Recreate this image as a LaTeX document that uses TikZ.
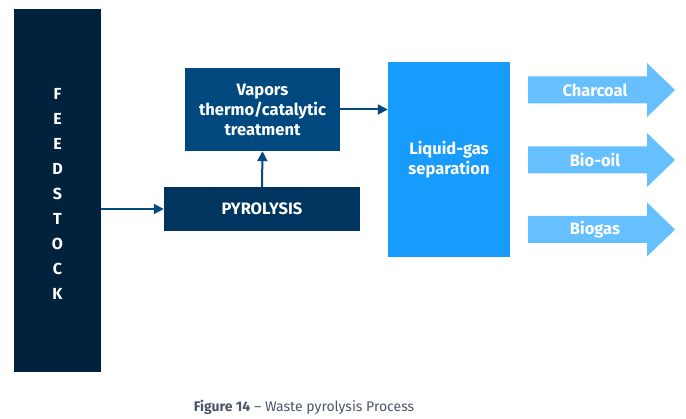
\documentclass[tikz,border=0pt]{standalone}
\usepackage{fontspec}
\setmainfont{Fira Sans}
\usetikzlibrary{arrows.meta}
\definecolor{feedc}{HTML}{00223D}
\definecolor{pyroc}{HTML}{00355F}
\definecolor{vapc}{HTML}{00497F}
\definecolor{liqc}{HTML}{179BFD}
\definecolor{outc}{HTML}{66BFFF}
\definecolor{linec}{HTML}{044A7E}
\definecolor{capc}{HTML}{4A5668}
\newcommand{\fatarrow}[2]{%
  \fill[outc] (528,#1-13.5) coordinate (#2w) -- (647,#1-13.5) -- (647,#1-27) -- (675,#1)
    coordinate (#2tip) -- (647,#1+27) -- (647,#1+13.5) -- (528,#1+13.5) -- cycle;}
\begin{document}
\begin{tikzpicture}[x=1pt,y=-1pt,
  box/.style={rectangle,inner sep=0pt,text=white,align=center,
    font=\fontsize{16.5}{20}\selectfont\bfseries},
  conn/.style={draw=linec,line width=2pt,-{Triangle[length=10pt,width=10pt]}},
  outtext/.style={text=white,font=\fontsize{16.5}{18}\selectfont\bfseries}]
\useasboundingbox (0,0) rectangle (686,419);
\node[box,fill=feedc,minimum width=87pt,minimum height=363pt] (feed) at (57.5,190.5) {};
\node[text=white,align=center,font=\fontsize{16}{25}\selectfont\bfseries] (feedtxt) at (57.5,193.5)
  {F\\E\\E\\D\\S\\T\\O\\C\\K};
\node[box,fill=vapc,minimum width=155pt,minimum height=83pt] (vap) at (262.5,109.5)
  {Vapors\\thermo/catalytic\\treatment};
\node[box,fill=pyroc,minimum width=196pt,minimum height=44pt] (pyro) at (262,209) {PYROLYSIS};
\node[box,fill=liqc,minimum width=122pt,minimum height=195pt] (liq) at (449,159.5)
  {Liquid-gas\\separation};
\fatarrow{90}{a1}
\fatarrow{160}{a2}
\fatarrow{229.5}{a3}
\node[outtext] (t1) at (595,90) {Charcoal};
\node[outtext] (t2) at (595,160) {Bio-oil};
\node[outtext] (t3) at (595,229.5) {Biogas};
\draw[conn] (feed.east |- pyro.west) -- (pyro.west);
\draw[conn] (pyro.north) -- (vap.south);
\draw[conn] (vap.east) -- (vap.east -| liq.west);
\node[text=capc,font=\fontsize{14}{16}\selectfont] (cap) at (304,407)
  {{\bfseries Figure 14} -- Waste pyrolysis Process};
\end{tikzpicture}
\end{document}
